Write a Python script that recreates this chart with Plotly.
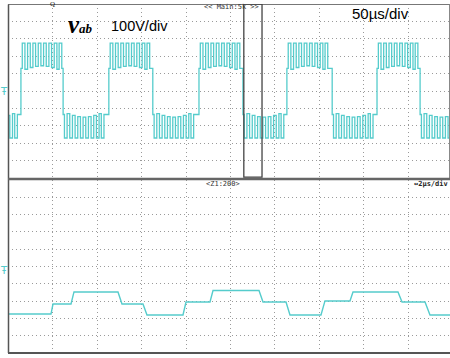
import plotly.graph_objects as go

# ---------------- data (oscilloscope divisions) ----------------
# Top trace (v_ab, 100V/div, 50us/div): half-cycle edge times, first listed segment is negative
top_edges = [-0.72, 0.28, 1.23, 2.26, 3.25, 4.29, 5.28, 6.27, 7.29, 8.30, 9.27, 10.3]
hi_outer = 2.75
hi_inner = 1.30
lo_inner = -1.35
lo_outer = -2.70
# PWM pulses inside each half-cycle (offset from the half-cycle start, in div)
pulse_on = [0.03, 0.15, 0.27, 0.39, 0.51, 0.63, 0.75, 0.86]
pulse_off = [0.09, 0.21, 0.33, 0.45, 0.57, 0.69, 0.81, 0.92]
inner_dev = [0.0, -0.05, 0.05, 0.12, 0.15, 0.12, 0.05, -0.05, 0.0]

# Bottom trace (zoomed, 2us/div): corner times and levels
bot_t = [-0.02, 0.957, 1.002, 1.408, 1.475, 2.466, 2.556, 3.029, 3.119, 3.930, 3.998,
         4.538, 4.606, 5.642, 5.732, 6.250, 6.340, 7.038, 7.128, 7.691, 7.759, 8.772,
         8.863, 9.381, 9.493, 9.96]
bot_v = [-2.75, -2.75, -2.17, -2.17, -1.47, -1.47, -2.17, -2.17, -2.80, -2.80, -2.05,
         -2.05, -1.39, -1.39, -2.05, -2.05, -2.80, -2.80, -1.99, -1.99, -1.47, -1.47,
         -2.05, -2.05, -2.80, -2.80]

# zoom window position on the main trace (div)
zoom_win = [5.30, 5.71]

# ---------------- build top waveform from the read values ----------------
tx, ty = [], []
for k in range(len(top_edges) - 1):
    t0, t1 = top_edges[k], top_edges[k + 1]
    high = (k % 2 == 1)
    inner = hi_inner if high else lo_inner
    outer = hi_outer if high else lo_outer
    sgn = 1 if high else -1
    tx.append(t0); ty.append(inner + sgn * inner_dev[0])
    for i, (on, off) in enumerate(zip(pulse_on, pulse_off)):
        a, b = t0 + on, t0 + off
        if b >= t1:
            break
        lv = inner + sgn * inner_dev[i]
        nv = inner + sgn * inner_dev[i + 1]
        tx += [a, a, b, b]
        ty += [lv, outer, outer, nv]
    tx.append(t1); ty.append(inner + sgn * inner_dev[-1])

CY = "#55cccc"
W, H = 450, 358
ML, MR, MT, MB = 8, 0, 4, 5
PW, PH = W - ML - MR, H - MT - MB


def px(x):
    return (x - ML) / PW


def py(y):
    return (H - MB - y) / PH


XR = [(ML - 8.5) / 44.4, (W - 8.5) / 44.4]

fig = go.Figure()
fig.add_trace(go.Scatter(x=tx, y=ty, mode="lines", line=dict(color=CY, width=1.3),
                         xaxis="x", yaxis="y", hoverinfo="skip"))
fig.add_trace(go.Scatter(x=bot_t, y=bot_v, mode="lines", line=dict(color=CY, width=1.4),
                         xaxis="x2", yaxis="y2", hoverinfo="skip"))

grid = dict(showgrid=True, gridcolor="#9a9a9a", griddash="1px,3px", gridwidth=1,
            zeroline=False, showticklabels=False, ticks="", dtick=1, tick0=0,
            showline=False, fixedrange=True)
fig.update_layout(
    width=W, height=H, margin=dict(l=ML, r=MR, t=MT, b=MB),
    paper_bgcolor="white", plot_bgcolor="white", showlegend=False,
    xaxis=dict(domain=[0, 1], range=XR, anchor="y", **grid),
    yaxis=dict(domain=[py(178), 1], range=[-5, 5], anchor="x", **grid),
    xaxis2=dict(domain=[0, 1], range=XR, anchor="y2", **grid),
    yaxis2=dict(domain=[0, py(180)], range=[-5, 5], anchor="x2", **grid),
)

shapes = []
# panel frames
shapes.append(dict(type="line", xref="paper", yref="paper", x0=0, x1=1, y0=py(4.5), y1=py(4.5),
                   line=dict(color="#777", width=1)))
shapes.append(dict(type="line", xref="paper", yref="paper", x0=px(8.5), x1=px(8.5), y0=py(4.5), y1=py(353),
                   line=dict(color="#555", width=1.5)))
shapes.append(dict(type="line", xref="paper", yref="paper", x0=px(449.5), x1=px(449.5), y0=py(4.5), y1=py(178),
                   line=dict(color="#888", width=1)))
shapes.append(dict(type="line", xref="paper", yref="paper", x0=0, x1=1, y0=py(179), y1=py(179),
                   line=dict(color="#666", width=2.5)))
shapes.append(dict(type="line", xref="paper", yref="paper", x0=0, x1=1, y0=py(353), y1=py(353),
                   line=dict(color="#555", width=2)))
# zoom window
shapes.append(dict(type="rect", xref="x", yref="y", x0=zoom_win[0], x1=zoom_win[1], y0=-4.95, y1=5,
                   line=dict(color="#444", width=1.3)))
fig.update_layout(shapes=shapes)

ann = []
ann.append(dict(text="<b><i>v</i></b>", x=px(73.5), y=py(25), xref="paper", yref="paper",
                showarrow=False, font=dict(family="Liberation Serif", size=25, color="black"),
                xanchor="center", yanchor="middle"))
ann.append(dict(text="<b><i>ab</i></b>", x=px(85.5), y=py(29), xref="paper", yref="paper",
                showarrow=False, font=dict(family="Liberation Serif", size=13, color="black"),
                xanchor="center", yanchor="middle"))
ann.append(dict(text="100V/div", x=px(139), y=py(26.5), xref="paper", yref="paper",
                showarrow=False, font=dict(family="Liberation Sans", size=14.5, color="black"),
                xanchor="center", yanchor="middle"))
ann.append(dict(text="50µs/div", x=px(380.5), y=py(13.5), xref="paper", yref="paper",
                showarrow=False, font=dict(family="Liberation Sans", size=15, color="black"),
                xanchor="center", yanchor="middle"))
ann.append(dict(text="&lt;&lt; Main:5k &gt;&gt;", x=px(231), y=py(7.5), xref="paper", yref="paper",
                showarrow=False, font=dict(family="DejaVu Sans Mono", size=7, color="#333"),
                xanchor="center", yanchor="middle"))
ann.append(dict(text="&lt;Z1:200&gt;", x=px(223), y=py(184), xref="paper", yref="paper",
                showarrow=False, font=dict(family="DejaVu Sans Mono", size=7, color="#333"),
                xanchor="center", yanchor="middle"))
ann.append(dict(text="<b>↔2µs/div</b>", x=px(431), y=py(184), xref="paper", yref="paper",
                showarrow=False, font=dict(family="DejaVu Sans Mono", size=7, color="#222"),
                xanchor="center", yanchor="middle"))
for gy in (91.5, 270):
    ann.append(dict(text="Ŧ", x=px(4), y=py(gy), xref="paper", yref="paper",
                    showarrow=False, font=dict(family="DejaVu Sans", size=10, color=CY),
                    xanchor="center", yanchor="middle"))
ann.append(dict(text="Q", x=px(52), y=py(0), xref="paper", yref="paper",
                showarrow=False, font=dict(family="Liberation Serif", size=7, color="#222"),
                xanchor="center", yanchor="top", yshift=2))
fig.update_layout(annotations=ann)

fig.write_html("out.html")
